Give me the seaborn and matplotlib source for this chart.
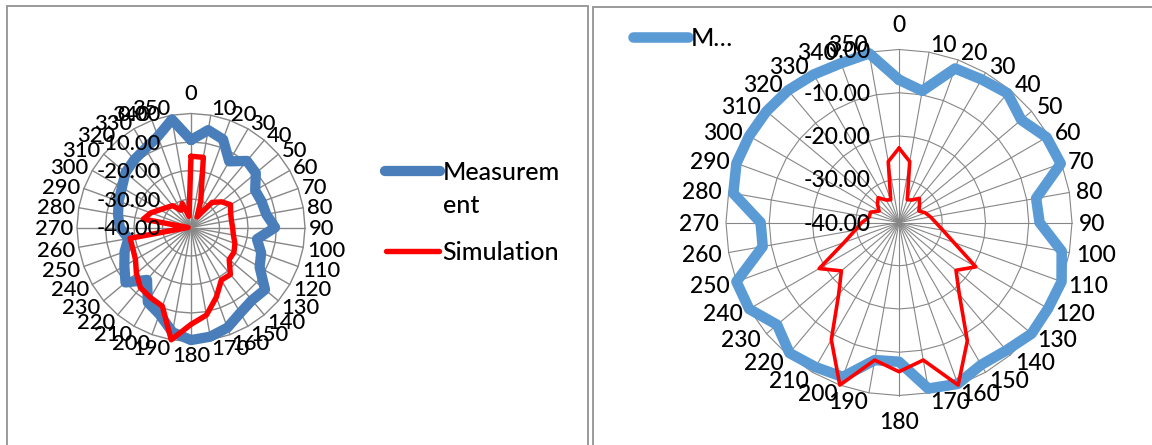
import numpy as np
import pandas as pd
import matplotlib
matplotlib.use("Agg")
import matplotlib.pyplot as plt
from matplotlib.lines import Line2D
import seaborn as sns

# ---- data -----------------------------------------------------------------
angles = list(range(0, 360, 10))
angle_labels = [str(a) for a in angles]
ring_values = [-40, -30, -20, -10, 0]
ring_labels = ["-40.00", "-30.00", "-20.00", "-10.00", "0.00"]

left_measurement = [-9.3, -5.3, -7.1, -13.2, -9.5, -10.3, -14.0, -13.6, -13.2, -10.5,
                    -16.5, -13.8, -12.2, -6.1, -6.7, -5.4, -2.6, -1.1, -0.5, -2.7,
                    -7.6, -9.7, -16.0, -10.0, -13.0, -15.2, -17.7, -15.0, -14.0, -13.0,
                    -12.0, -10.0, -9.0, -8.0, -6.0, -1.5]
left_simulation = [-15.0, -15.0, -30.0, -35.7, -28.5, -26.0, -24.0, -25.2, -25.6, -25.4,
                   -24.9, -23.6, -22.6, -22.5, -18.5, -18.7, -14.0, -8.8, -6.0, 0.0,
                   -10.6, -11.6, -12.4, -15.0, -17.5, -18.3, -18.3, -39.0, -23.0, -25.0,
                   -27.5, -29.0, -30.0, -33.0, -31.0, -36.0]

right_measurement = [-7.0, -9.1, -2.1, -1.8, -1.0, -3.1, -0.6, -0.2, -7.8, -7.5,
                     -1.8, 0.0, -0.2, 0.0, -1.4, -2.0, -0.3, -1.0, -7.8, -7.7,
                     -2.0, -1.4, -0.6, -3.2, 0.0, 0.0, -8.0, -8.0, -1.1, 0.0,
                     0.0, 0.0, -0.1, -0.5, -0.8, -0.3]
right_simulation = [-22.8, -25.7, -34.4, -34.0, -32.7, -33.8, -34.7, -33.5, -32.6, -31.5,
                    -29.7, -26.5, -19.5, -22.8, -18.3, -8.4, 0.0, -7.7, -5.5, -7.7,
                    0.0, -8.7, -18.3, -22.6, -18.7, -26.5, -29.7, -31.4, -33.0, -33.0,
                    -34.7, -33.5, -32.5, -34.0, -34.4, -25.7]

series_names = ["Measurement", "Simulation"]

# ---- style ----------------------------------------------------------------
sns.set_theme(style="white")
plt.rcParams["font.family"] = ["Lato", "DejaVu Sans"]
plt.rcParams["font.weight"] = "medium"

W, H = 1152, 445
fig = plt.figure(figsize=(W / 100, H / 100), dpi=100)
fig.patch.set_facecolor("white")

GRID = "#878787"
RED = "#ff0000"


def fig_box(cx, cy, r):
    """Axes rectangle (figure fraction) for a radar of radius r centred at pixel (cx, cy)."""
    return [(cx - r) / W, (H - cy - r) / H, 2 * r / W, 2 * r / H]


def radar(rect, meas, sim, meas_color, meas_lw, sim_lw, fs,
          side_gap, top_gap, bot_gap, val_dx, grid_lw):
    ax = fig.add_axes(rect, projection="polar")
    ax.set_theta_zero_location("N")
    ax.set_theta_direction(-1)
    ax.grid(False)
    ax.spines["polar"].set_visible(False)
    ax.set_facecolor("none")

    theta = np.deg2rad(angles)
    closed = np.append(theta, theta[0])

    # polygonal rings and spokes
    for v in ring_values[1:]:
        ax.plot(closed, [v] * len(closed), color=GRID, lw=grid_lw, zorder=1, clip_on=False)
    for t in theta:
        ax.plot([t, t], [ring_values[0], ring_values[-1]], color=GRID, lw=grid_lw,
                zorder=1, clip_on=False)

    df = pd.DataFrame({
        "theta": np.concatenate([closed, closed]),
        "value": np.concatenate([np.append(meas, meas[0]), np.append(sim, sim[0])]),
        "series": [series_names[0]] * len(closed) + [series_names[1]] * len(closed),
    })
    styles = {series_names[0]: (meas_color, meas_lw, 2),
              series_names[1]: (RED, sim_lw, 3)}
    for name in series_names:
        color, lw, z = styles[name]
        sns.lineplot(data=df[df["series"] == name], x="theta", y="value", sort=False,
                     estimator=None, color=color, linewidth=lw, ax=ax, legend=False,
                     zorder=z)
        ln = ax.lines[-1]
        ln.set_clip_on(False)
        ln.set_solid_joinstyle("round")
        ln.set_solid_capstyle("round")

    ax.set_ylim(ring_values[0], ring_values[-1])
    ax.set_xticks([])
    ax.set_yticks([])
    ax.set_xlabel("")
    ax.set_ylabel("")

    h = 0.7165 * fs * 100 / 72  # digit height in pixels

    # value-axis labels along the 0-degree spoke
    for v, lab in zip(ring_values, ring_labels):
        ax.annotate(lab, xy=(0, v), xycoords="data", xytext=(val_dx, -h / 2),
                    textcoords="offset pixels", ha="right", va="baseline",
                    fontsize=fs, color="black", zorder=5, annotation_clip=False)

    # category labels around the outside
    for a, lab in zip(angles, angle_labels):
        t = np.deg2rad(a)
        s, c = np.sin(t), np.cos(t)
        if a == 0:
            ha, ox, oy = "center", 0, top_gap
        elif a == 180:
            ha, ox, oy = "center", 0, -(bot_gap + h)
        else:
            ha = "left" if s > 0 else "right"
            ox = np.sign(s) * side_gap * abs(s)
            oy = (h / 2) * (c - 1)
        ax.annotate(lab, xy=(t, ring_values[-1]), xycoords="data", xytext=(ox, oy),
                    textcoords="offset pixels", ha=ha, va="baseline", fontsize=fs,
                    color="black", zorder=6, annotation_clip=False)
    return ax


radar(fig_box(191, 227.5, 114), left_measurement, left_simulation,
      meas_color="#4a7ebb", meas_lw=7.4, sim_lw=3.9, fs=15.8,
      side_gap=4, top_gap=14, bot_gap=5, val_dx=-30, grid_lw=1.0)
radar(fig_box(899, 222.5, 173), right_measurement, right_simulation,
      meas_color="#5b9bd5", meas_lw=7.6, sim_lw=2.6, fs=16.5,
      side_gap=7, top_gap=17.5, bot_gap=17, val_dx=-28, grid_lw=0.8)


def px(x, y):
    return x / W, 1 - y / H


# legends
def legend_entry(x0, x1, y, color, lw, lines, fs, line_gap):
    fig.add_artist(Line2D([px(x0, y)[0], px(x1, y)[0]], [px(x0, y)[1]] * 2,
                          transform=fig.transFigure, color=color, lw=lw,
                          solid_capstyle="round"))
    h = 0.7165 * fs * 100 / 72
    for i, txt in enumerate(lines):
        fx, fy = px(x1 + 3, y + i * line_gap + h / 2)
        fig.text(fx, fy, txt, ha="left", va="baseline", fontsize=fs, color="black")


legend_entry(385, 440, 170.7, "#4a7ebb", 7.4, ["Measurem", "ent"], 18.0, 33)
legend_entry(386, 439, 250.7, RED, 3.9, [series_names[1]], 18.0, 33)
legend_entry(633, 688, 36.7, "#5b9bd5", 7.6, ["M\u2026"], 18.0, 33)

# panel borders
FRAME = "#9a9a9a"
for xs, ys in [([7, 7], [6, H]), ([7, 588], [6, 6]), ([588, 588], [6, H]),
               ([593, 593], [7, H]), ([593, W], [7, 7])]:
    fig.add_artist(Line2D([x / W for x in xs], [1 - y / H for y in ys],
                          transform=fig.transFigure, color=FRAME, lw=1.4))

fig.savefig("out.png", dpi=100, facecolor="white")
